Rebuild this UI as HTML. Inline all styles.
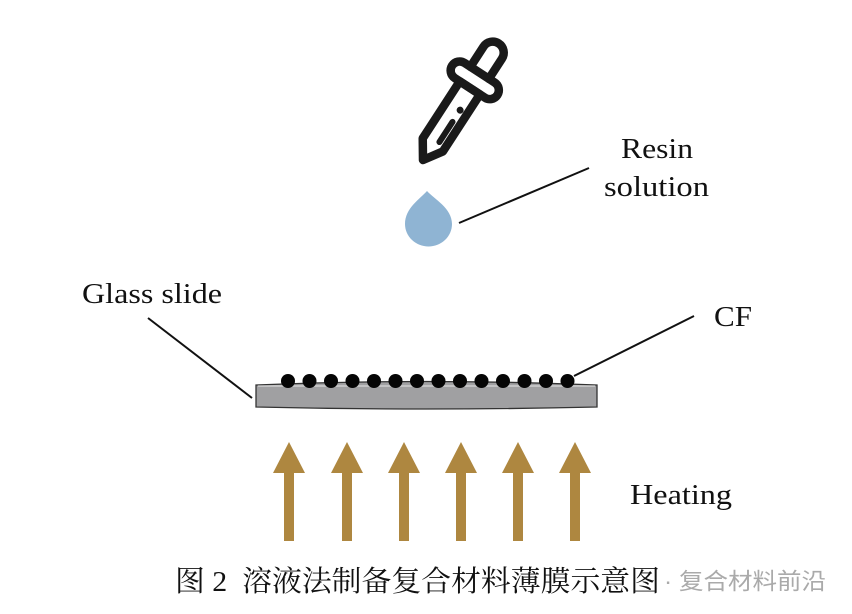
<!DOCTYPE html>
<html><head><meta charset="utf-8"><style>
html,body{margin:0;padding:0;background:#fff;}
svg{display:block;}
</style></head><body>
<svg width="852" height="614" viewBox="0 0 852 614" xmlns="http://www.w3.org/2000/svg">
<!-- dropper -->
<g transform="translate(423,160) rotate(33)" fill="none" stroke="#1a1a1a" stroke-width="8.5" stroke-linejoin="round" stroke-linecap="round">
  <path d="M0,0 L-12,-18 L-12,-86 L12,-86 L12,-18 Z"/>
  <rect x="-27" y="-104" width="54" height="18" rx="9"/>
  <path d="M-11,-104 L-11,-128 A11,11 0 0 1 11,-128 L11,-104"/>
  <line x1="4" y1="-48" x2="4" y2="-24" stroke-width="6"/>
  <circle cx="4" cy="-62" r="3.5" fill="#1a1a1a" stroke="none"/>
</g>
<!-- drop -->
<path d="M427,191 C434,199 452,208 452,224 A23,22 0 0 1 405,224 C405,208 420,199 427,191 Z" fill="#8fb4d3"/>
<!-- leader lines -->
<g stroke="#111" stroke-width="2">
<line x1="459" y1="223" x2="589" y2="168"/>
<line x1="148" y1="318" x2="252" y2="398"/>
<line x1="574" y1="376" x2="694" y2="316"/>
</g>
<!-- slide -->
<path d="M256,385 Q426,378 597,385 L597,407 Q426,411 256,407 Z" fill="#a0a0a2" stroke="#333" stroke-width="1.3"/>
<line x1="258" y1="386" x2="595" y2="386" stroke="#d8d8d8" stroke-width="1.2"/>
<g fill="#050505">
<circle cx="288" cy="381" r="7"/><circle cx="309.5" cy="381" r="7"/><circle cx="331" cy="381" r="7"/><circle cx="352.5" cy="381" r="7"/><circle cx="374" cy="381" r="7"/><circle cx="395.5" cy="381" r="7"/><circle cx="417" cy="381" r="7"/><circle cx="438.5" cy="381" r="7"/><circle cx="460" cy="381" r="7"/><circle cx="481.5" cy="381" r="7"/><circle cx="503" cy="381" r="7"/><circle cx="524.5" cy="381" r="7"/><circle cx="546" cy="381" r="7"/><circle cx="567.5" cy="381" r="7"/>
</g>
<!-- arrows -->
<g fill="#ae8740">
<path d="M289,442 L305,473 L294,473 L294,541 L284,541 L284,473 L273,473 Z"/>
<path d="M347,442 L363,473 L352,473 L352,541 L342,541 L342,473 L331,473 Z"/>
<path d="M404,442 L420,473 L409,473 L409,541 L399,541 L399,473 L388,473 Z"/>
<path d="M461,442 L477,473 L466,473 L466,541 L456,541 L456,473 L445,473 Z"/>
<path d="M518,442 L534,473 L523,473 L523,541 L513,541 L513,473 L502,473 Z"/>
<path d="M575,442 L591,473 L580,473 L580,541 L570,541 L570,473 L559,473 Z"/>
</g>
<g font-family="Liberation Serif, serif" font-size="29" fill="#111">
<text x="621" y="158" textLength="72" lengthAdjust="spacingAndGlyphs">Resin</text>
<text x="604" y="196" textLength="105" lengthAdjust="spacingAndGlyphs">solution</text>
<text x="82" y="303" textLength="140" lengthAdjust="spacingAndGlyphs">Glass slide</text>
<text x="714" y="326" textLength="38" lengthAdjust="spacingAndGlyphs">CF</text>
<text x="630" y="504" textLength="102" lengthAdjust="spacingAndGlyphs">Heating</text>
</g>
<text x="175" y="591" font-family="Liberation Serif, 'Noto Serif CJK SC', serif" font-size="29" fill="#111" textLength="485" lengthAdjust="spacingAndGlyphs">图 2&#160;&#160;溶液法制备复合材料薄膜示意图</text>
<text x="664" y="589" font-family="Liberation Sans, 'Noto Sans CJK SC', sans-serif" font-size="23" fill="#aaaaaa" textLength="162" lengthAdjust="spacingAndGlyphs">· 复合材料前沿</text>
</svg>
</body></html>
